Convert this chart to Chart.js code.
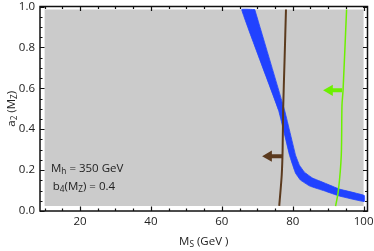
<!DOCTYPE html>
<html><head><meta charset="utf-8">
<script src="https://cdn.jsdelivr.net/npm/chart.js@4/dist/chart.umd.min.js"></script>
<style>html,body{margin:0;padding:0;background:#fff;} #wrap{width:374px;height:251px;position:relative;}</style>
</head><body><div id="wrap"><canvas id="c"></canvas></div>
<script>
// ---- data ----
const xMajorTicks = [20, 40, 60, 80, 100];
const xMinorTicks = [10, 15, 25, 30, 35, 45, 50, 55, 65, 70, 75, 85, 90, 95];
const yMajorTicks = [0, 0.2, 0.4, 0.6, 0.8, 1.0];
const yMinorTicks = [0.05, 0.1, 0.15, 0.25, 0.3, 0.35, 0.45, 0.5, 0.55, 0.65, 0.7, 0.75, 0.85, 0.9, 0.95];

const regionX = [10, 100, 100, 10, 10];
const regionY = [0.024, 0.024, 0.985, 0.985, 0.024];

const blueUpperX = [69.3, 77.7, 80.8, 81.9, 83.3, 85.6, 89.0, 93.2, 100.2];
const blueUpperY = [0.985, 0.493, 0.273, 0.224, 0.190, 0.161, 0.137, 0.107, 0.076];
const blueLowerX = [65.6, 76.0, 79.1, 80.0, 80.8, 82.2, 84.8, 89.0, 93.2, 100.2];
const blueLowerY = [0.985, 0.493, 0.273, 0.224, 0.185, 0.151, 0.122, 0.098, 0.073, 0.046];

const brownX = [78.1, 77.7, 77.3, 77.15, 76.9, 76.2];
const brownY = [0.985, 0.737, 0.493, 0.298, 0.176, 0.025];

const greenX = [95.2, 94.2, 93.9, 93.7, 92.9, 92.1];
const greenY = [0.985, 0.590, 0.517, 0.273, 0.102, 0.024];

// arrows: [brown, green]
const arrowY = [0.268, 0.590];
const arrowFromX = [77.15, 93.9];
const arrowHeadX = [73.2, 90.4];

const textMh = [{t:'M'},{t:'h',sub:true},{t:' = 350 GeV'}];
const textB4 = [{t:'b'},{t:'4',sub:true},{t:'(M'},{t:'Z',sub:true},{t:') = 0.4'}];
const textPosX = [11.8, 12.3];
const textPosY = [0.19, 0.102];
const xTitle = [{t:'M'},{t:'S',sub:true},{t:' (GeV )'}];
const yTitle = [{t:'a'},{t:'2',sub:true},{t:' (M'},{t:'Z',sub:true},{t:')'}];

// ---- helpers ----
const pts = (xs, ys) => xs.map((x, i) => ({x, y: ys[i]}));
const FONT = '"Open Sans", "DejaVu Sans", sans-serif';
const BROWN = '#5b3a1e', GREEN = '#6cf000', BLUE = '#2142ff', GRAY = '#cbcbcb';
const TXT = 11.5;

const bluePoly = pts(blueUpperX, blueUpperY).concat(pts(blueLowerX, blueLowerY).reverse());
bluePoly.push(bluePoly[0]);

function richWidth(ctx, parts, size) {
  let w = 0;
  for (const p of parts) {
    ctx.font = (p.sub ? size * 0.72 : size) + 'px ' + FONT;
    w += ctx.measureText(p.t).width;
  }
  return w;
}
function richDraw(ctx, x, y, parts, size) {
  let cx = x;
  for (const p of parts) {
    const fs = p.sub ? size * 0.72 : size;
    ctx.font = fs + 'px ' + FONT;
    ctx.fillText(p.t, cx, y + (p.sub ? size * 0.2 : 0));
    cx += ctx.measureText(p.t).width;
  }
}

const decor = {
  id: 'decor',
  afterDatasetsDraw(chart) {
    const ctx = chart.ctx, a = chart.chartArea;
    const xs = chart.scales.x, ys = chart.scales.y;
    ctx.save();
    ctx.strokeStyle = '#111';
    ctx.lineWidth = 1.5;
    ctx.strokeRect(a.left, a.top, a.right - a.left, a.bottom - a.top);
    ctx.lineWidth = 1.2;
    ctx.beginPath();
    const xt = xMajorTicks.map(v => [v, 4.5]).concat(xMinorTicks.map(v => [v, 2.5]));
    for (const [v, l] of xt) {
      const px = Math.round(xs.getPixelForValue(v)) + 0.5;
      ctx.moveTo(px, a.bottom); ctx.lineTo(px, a.bottom - l);
      ctx.moveTo(px, a.top); ctx.lineTo(px, a.top + l);
    }
    const yt = yMajorTicks.map(v => [v, 4.5]).concat(yMinorTicks.map(v => [v, 2.5]));
    for (const [v, l] of yt) {
      const py = Math.round(ys.getPixelForValue(v)) + 0.5;
      ctx.moveTo(a.left, py); ctx.lineTo(a.left + l, py);
      ctx.moveTo(a.right, py); ctx.lineTo(a.right - l, py);
    }
    ctx.stroke();

    ctx.fillStyle = '#222';
    ctx.textBaseline = 'alphabetic';
    ctx.textAlign = 'left';
    richDraw(ctx, xs.getPixelForValue(textPosX[0]), ys.getPixelForValue(textPosY[0]), textMh, TXT);
    richDraw(ctx, xs.getPixelForValue(textPosX[1]), ys.getPixelForValue(textPosY[1]), textB4, TXT);

    // axis titles
    const tw = richWidth(ctx, xTitle, TXT);
    richDraw(ctx, (a.left + a.right) / 2 - tw / 2, 245, xTitle, TXT);
    ctx.translate(15, (a.top + a.bottom) / 2);
    ctx.rotate(-Math.PI / 2);
    const th = richWidth(ctx, yTitle, TXT);
    richDraw(ctx, -th / 2, 0, yTitle, TXT);
    ctx.restore();
  }
};

const tickFont = {family: FONT, size: 11.5};

new Chart(document.getElementById('c'), {
  type: 'scatter',
  data: {
    datasets: [
      {data: pts(regionX, regionY), showLine: true, fill: 'shape', backgroundColor: GRAY, borderColor: GRAY, borderWidth: 0, pointRadius: 0, order: 10},
      {data: bluePoly, showLine: true, fill: 'shape', backgroundColor: BLUE, borderColor: BLUE, borderWidth: 0.8, pointRadius: 0, tension: 0.08, order: 6},
      {data: pts(brownX, brownY), showLine: true, borderColor: BROWN, borderWidth: 2, pointRadius: 0, tension: 0.3, order: 5},
      {data: pts(greenX, greenY), showLine: true, borderColor: GREEN, borderWidth: 1.5, pointRadius: 0, tension: 0.3, order: 4},
      {data: [{x: arrowFromX[0], y: arrowY[0]}, {x: arrowHeadX[0], y: arrowY[0]}], showLine: true, borderColor: BROWN, borderWidth: 4, pointRadius: 0, order: 3},
      {data: [{x: arrowHeadX[0], y: arrowY[0]}], pointStyle: 'triangle', rotation: -90, pointRadius: 6.5, backgroundColor: BROWN, borderColor: BROWN, borderWidth: 0, order: 2},
      {data: [{x: arrowFromX[1], y: arrowY[1]}, {x: arrowHeadX[1], y: arrowY[1]}], showLine: true, borderColor: GREEN, borderWidth: 4, pointRadius: 0, order: 3},
      {data: [{x: arrowHeadX[1], y: arrowY[1]}], pointStyle: 'triangle', rotation: -90, pointRadius: 6.5, backgroundColor: GREEN, borderColor: GREEN, borderWidth: 0, order: 2}
    ]
  },
  options: {
    responsive: true,
    maintainAspectRatio: false,
    animation: false,
    events: [],
    layout: {padding: {top: 6, right: 6, left: 0, bottom: 0}},
    plugins: {legend: {display: false}, tooltip: {enabled: false}},
    scales: {
      x: {
        type: 'linear', position: 'bottom', min: 8.7, max: 101.1,
        grid: {display: false, drawTicks: false}, border: {display: false},
        afterBuildTicks: s => { s.ticks = xMajorTicks.map(v => ({value: v})); },
        afterFit: s => { s.height = 40; s.paddingLeft = 0; s.paddingRight = 0; },
        ticks: {font: tickFont, color: '#222', padding: 4, maxRotation: 0, autoSkip: false, callback: v => String(v)}
      },
      y: {
        type: 'linear', position: 'left', min: 0, max: 1,
        grid: {display: false, drawTicks: false}, border: {display: false},
        afterBuildTicks: s => { s.ticks = yMajorTicks.map(v => ({value: v})); },
        afterFit: s => { s.width = 40; s.paddingTop = 0; s.paddingBottom = 0; },
        ticks: {font: tickFont, color: '#222', padding: 5, autoSkip: false, callback: v => v.toFixed(1)}
      }
    }
  },
  plugins: [decor]
});
</script></body></html>
